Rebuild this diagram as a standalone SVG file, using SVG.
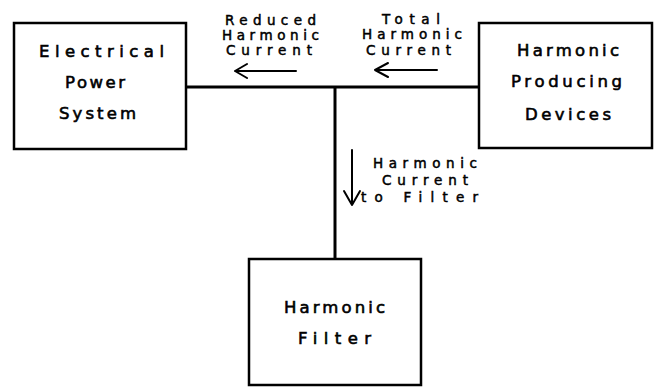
<svg xmlns="http://www.w3.org/2000/svg" width="657" height="387" viewBox="0 0 657 387">
<style>
.box{fill:#fff;stroke:#000;stroke-width:2.5}
.t{font-family:"DejaVu Sans","Liberation Sans",sans-serif;font-size:16.5px;fill:#000;stroke:#000;stroke-width:0.6}
.l{font-family:"DejaVu Sans","Liberation Sans",sans-serif;font-size:13.5px;fill:#000;stroke:#000;stroke-width:0.5}
.wire{fill:none;stroke:#000;stroke-width:3}
.arr{fill:none;stroke:#000;stroke-width:2;stroke-linecap:round;stroke-linejoin:round}
</style>
<rect width="657" height="387" fill="#fff"/>
<g id="connectors">
<line class="wire" x1="186" y1="87" x2="479" y2="87"/>
<line class="wire" x1="335" y1="87" x2="335" y2="259"/>
<path class="arr" d="M296 71H235M247 64L235 71L247 78"/>
<path class="arr" d="M437 70H375M388 63L375 70L388 77"/>
<path class="arr" d="M352 150V205M344 191L352 205L360 191"/>
<g id="label-reduced">
<text class="l" x="225" y="25" textLength="91" lengthAdjust="spacing">Reduced</text>
<text class="l" x="222" y="40" textLength="97" lengthAdjust="spacing">Harmonic</text>
<text class="l" x="226" y="55" textLength="86" lengthAdjust="spacing">Current</text>
</g>
<g id="label-total">
<text class="l" x="382" y="24" textLength="58" lengthAdjust="spacing">Total</text>
<text class="l" x="362" y="39" textLength="100" lengthAdjust="spacing">Harmonic</text>
<text class="l" x="366" y="55" textLength="85" lengthAdjust="spacing">Current</text>
</g>
<g id="label-filter">
<text class="l" x="373" y="168" textLength="104" lengthAdjust="spacing">Harmonic</text>
<text class="l" x="382" y="185" textLength="86" lengthAdjust="spacing">Current</text>
<text class="l" x="361" y="202" textLength="117" lengthAdjust="spacing">to Filter</text>
</g>
</g>
<g id="eps">
<rect class="box" x="14" y="23" width="172" height="126"/>
<text class="t" x="39" y="57" textLength="125" lengthAdjust="spacing">Electrical</text>
<text class="t" x="65" y="88" textLength="60" lengthAdjust="spacing">Power</text>
<text class="t" x="59" y="119" textLength="77" lengthAdjust="spacing">System</text>
</g>
<g id="hpd">
<rect class="box" x="479" y="23" width="173" height="125"/>
<text class="t" x="517" y="56" textLength="102" lengthAdjust="spacing">Harmonic</text>
<text class="t" x="511" y="87" textLength="111" lengthAdjust="spacing">Producing</text>
<text class="t" x="525" y="120" textLength="86" lengthAdjust="spacing">Devices</text>
</g>
<g id="filter">
<rect class="box" x="249" y="259" width="172" height="126"/>
<text class="t" x="284" y="313" textLength="101" lengthAdjust="spacing">Harmonic</text>
<text class="t" x="298" y="344" textLength="73" lengthAdjust="spacing">Filter</text>
</g>
</svg>
